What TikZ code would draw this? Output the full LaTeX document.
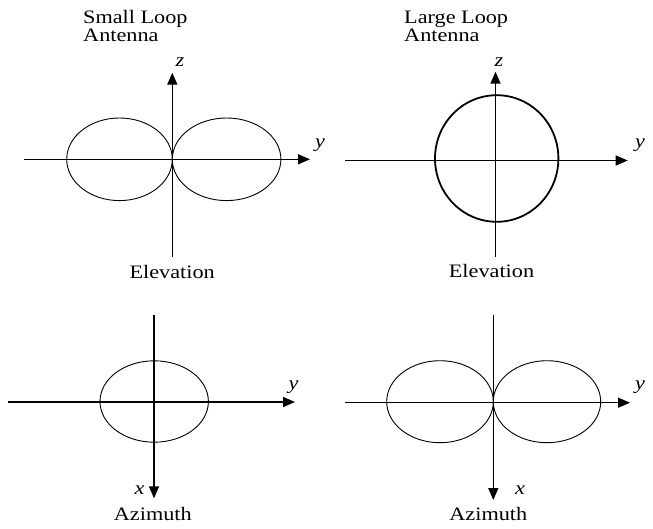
\documentclass[tikz,border=0pt]{standalone}
\usepackage{fontspec}
\setmainfont[FakeStretch=1.17]{Liberation Serif}
\usetikzlibrary{arrows.meta}
\begin{document}
\begin{tikzpicture}[x=1pt,y=-1pt,
  axis/.style={line width=1.4pt,-{Triangle[length=12pt,width=10pt]}},
  lobe/.style={line width=0.9pt},
  biglobe/.style={line width=1.8pt},
  lbl/.style={font=\fontsize{19}{22}\selectfont\itshape, inner sep=0pt},
  ttl/.style={font=\fontsize{19}{22}\selectfont, inner sep=0pt, anchor=base west},
  capt/.style={font=\fontsize{19}{22}\selectfont, inner sep=0pt, anchor=base}]
\useasboundingbox[fill=white] (0,0) rectangle (653,529);

% ---------- top left: small loop, elevation
\node[ttl] (sl1) at (83,23.5) {Small Loop};
\node[ttl] (sl2) at (83,41.7) {Antenna};
\coordinate (tlzb) at (172.3,256.7);
\coordinate (tlzt) at (172.3,72.7);
\coordinate (tlyl) at (24,159.3);
\coordinate (tlyr) at (310,159.3);
\draw[axis] (tlzb) -- (tlzt);
\draw[axis] (tlyl) -- (tlyr);
\coordinate (tlc1) at (119.5,159.3);
\coordinate (tlc2) at (226.6,159.3);
\draw[lobe] (tlc1) ellipse [x radius=52.8pt, y radius=41.3pt];
\draw[lobe] (tlc2) ellipse [x radius=54.3pt, y radius=41.3pt];
\node[lbl] (tlz) at (180,62.5) {z};
\node[lbl] (tly) at (320,145) {y};
\node[capt] (tlcap) at (172.2,278.3) {Elevation};

% ---------- top right: large loop, elevation
\node[ttl] (ll1) at (404,23.5) {Large Loop};
\node[ttl] (ll2) at (404,41.7) {Antenna};
\coordinate (trzb) at (495.5,256.7);
\coordinate (trzt) at (495.5,71.7);
\coordinate (tryl) at (345,160.5);
\coordinate (tryr) at (627.7,160.5);
\draw[axis] (trzb) -- (trzt);
\draw[axis] (tryl) -- (tryr);
\coordinate (trc) at (496.7,158.5);
\draw[biglobe] (trc) ellipse [x radius=61.7pt, y radius=63.3pt];
\node[lbl] (trz) at (499,62.5) {z};
\node[lbl] (try) at (640,145) {y};
\node[capt] (trcap) at (491.5,277.5) {Elevation};

% ---------- bottom left: small loop, azimuth
\coordinate (blxt) at (154,315);
\coordinate (blxb) at (154,498.3);
\coordinate (blyl) at (8.3,402);
\coordinate (blyr) at (295,402);
\draw[axis] (blxt) -- (blxb);
\draw[axis] (blyl) -- (blyr);
\coordinate (blc) at (154.2,401.5);
\draw[lobe] (blc) ellipse [x radius=54.2pt, y radius=40.7pt];
\node[lbl] (blx) at (139.5,490) {x};
\node[lbl] (bly) at (293.5,386.7) {y};
\node[capt] (blcap) at (152.8,520) {Azimuth};

% ---------- bottom right: large loop, azimuth
\coordinate (brxt) at (493.3,315);
\coordinate (brxb) at (493.3,500);
\coordinate (bryl) at (345,402.7);
\coordinate (bryr) at (630,402.7);
\draw[axis] (brxt) -- (brxb);
\draw[axis] (bryl) -- (bryr);
\coordinate (brc1) at (440,401.7);
\coordinate (brc2) at (547,401.7);
\draw[lobe] (brc1) ellipse [x radius=53.3pt, y radius=41pt];
\draw[lobe] (brc2) ellipse [x radius=53.7pt, y radius=41pt];
\node[lbl] (brx) at (520,490) {x};
\node[lbl] (bry) at (640,386.7) {y};
\node[capt] (brcap) at (488.3,520) {Azimuth};
\end{tikzpicture}
\end{document}
